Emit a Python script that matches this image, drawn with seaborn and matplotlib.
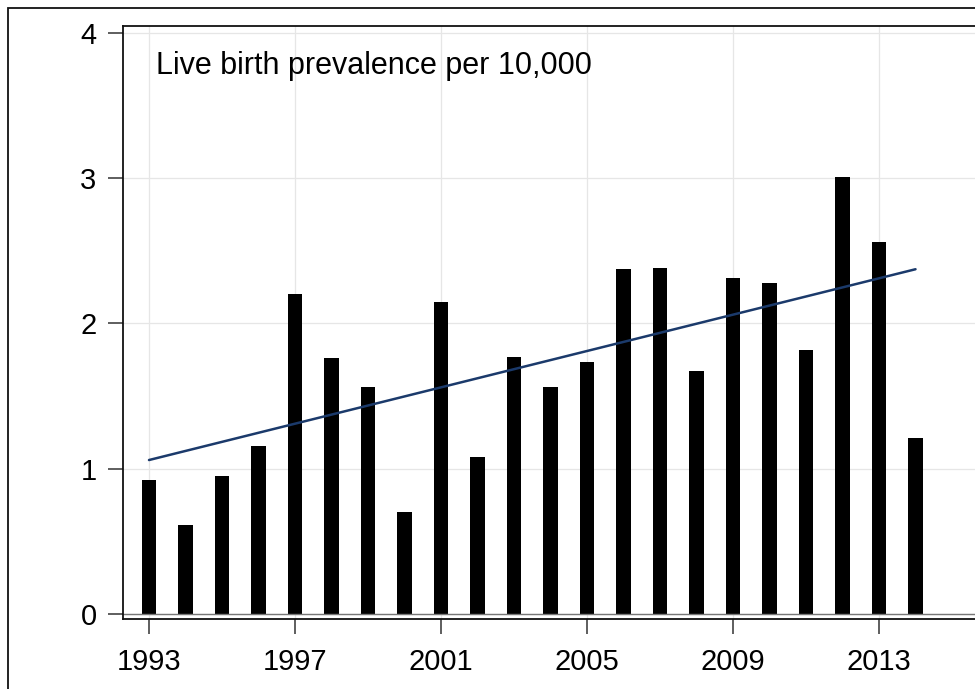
import numpy as np
import pandas as pd
import matplotlib
matplotlib.use("Agg")
import matplotlib.pyplot as plt
from matplotlib.patches import Rectangle
import seaborn as sns

# Live birth prevalence per 10,000, by year
years = [1993, 1994, 1995, 1996, 1997, 1998, 1999, 2000, 2001, 2002, 2003,
         2004, 2005, 2006, 2007, 2008, 2009, 2010, 2011, 2012, 2013, 2014]
prevalence = [0.92, 0.61, 0.95, 1.16, 2.20, 1.76, 1.56, 0.70, 2.15, 1.08, 1.77,
              1.56, 1.735, 2.375, 2.38, 1.67, 2.31, 2.28, 1.82, 3.01, 2.56, 1.21]
x_ticks = [1993, 1997, 2001, 2005, 2009, 2013]
y_ticks = [0, 1, 2, 3, 4]
label_text = "Live birth prevalence per 10,000"

df = pd.DataFrame({"year": years, "prevalence": prevalence})

sns.set_theme(style="white")
plt.rcParams["font.family"] = ["Liberation Sans", "DejaVu Sans"]

W, H = 975, 689
fig = plt.figure(figsize=(W / 100, H / 100), dpi=100)
fig.patch.set_facecolor("white")

# plot region in pixels: left 123, top 26, bottom 619, right at the canvas edge
left_px, top_px, bottom_px, right_px = 123, 26, 619, W
ax = fig.add_axes([left_px / W, 1 - bottom_px / H,
                   (right_px - left_px) / W, (bottom_px - top_px) / H])
ax.set_facecolor("white")

px_per_year = 36.5
x0 = 1993 - (149 - left_px) / px_per_year
x1 = 1993 + (right_px - 149) / px_per_year
px_per_unit = (614 - 33) / 4
y0 = -(bottom_px - 614) / px_per_unit
y1 = (614 - top_px) / px_per_unit

# grid
for xt in x_ticks:
    ax.axvline(xt, color="#e6e6e6", lw=0.9, zorder=0)
for yt in y_ticks:
    ax.axhline(yt, color="#e6e6e6", lw=0.9, zorder=0)

sns.barplot(data=df, x="year", y="prevalence", native_scale=True, width=0.41,
            color="black", saturation=1, edgecolor="none", ax=ax, zorder=2)
sns.regplot(data=df, x="year", y="prevalence", scatter=False, ci=None,
            truncate=True, color="#1b3a6b", line_kws={"lw": 1.8, "zorder": 3},
            ax=ax)

ax.axhline(0, color="#777777", lw=1.0, zorder=2.5)

ax.set_xlim(x0, x1)
ax.set_ylim(y0, y1)
ax.set_xticks(x_ticks)
ax.set_xticklabels([str(t) for t in x_ticks])
ax.set_yticks(y_ticks)
ax.set_yticklabels([str(t) for t in y_ticks])
ax.set_xlabel("")
ax.set_ylabel("")

for side in ["left", "top", "bottom"]:
    ax.spines[side].set_visible(True)
    ax.spines[side].set_color("#111111")
    ax.spines[side].set_linewidth(1.3)
ax.spines["right"].set_visible(False)

ax.tick_params(axis="both", direction="out", colors="#333333", labelcolor="black",
               labelsize=21, width=1.1, length=11)
ax.tick_params(axis="y", pad=8, left=True)
ax.tick_params(axis="x", pad=10, bottom=True)

fig.text(156 / W, 1 - 74 / H, label_text, fontsize=22, color="black",
         ha="left", va="baseline")

# outer frame
fig.add_artist(Rectangle((8 / W, -0.1), 1.2, 1.1 - 8 / H,
                         transform=fig.transFigure, fill=False,
                         edgecolor="#111111", lw=1.3))

fig.savefig("out.png", dpi=100, facecolor="white")
